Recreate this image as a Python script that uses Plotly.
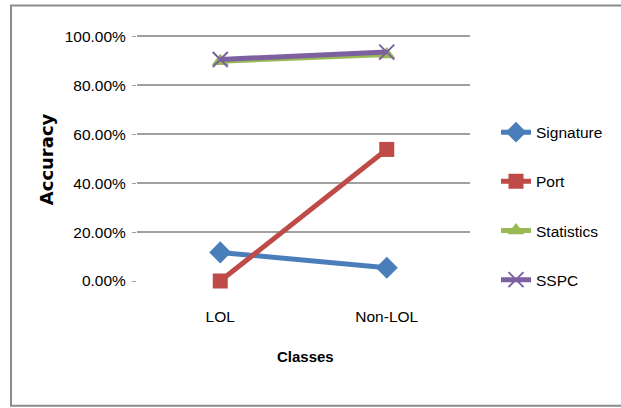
import plotly.graph_objects as go

categories = ["LOL", "Non-LOL"]
signature = [0.117, 0.054]
port = [0.0, 0.538]
statistics = [0.899, 0.926]
sspc = [0.906, 0.936]
y_ticks = [0, 0.2, 0.4, 0.6, 0.8, 1.0]
y_tick_labels = ["0.00%", "20.00%", "40.00%", "60.00%", "80.00%", "100.00%"]

FONT = "Liberation Sans Narrow, Arial Narrow, Liberation Sans, Arial, sans-serif"

series = [
    ("Signature", signature, "#4A7EBB", "diamond", 17),
    ("Port", port, "#BE4B48", "square", 15),
    ("Statistics", statistics, "#98B954", "triangle-up", 15),
    ("SSPC", sspc, "#7D60A0", "x-thin-open", 15),
]

W, H = 621, 408
L, R = 137, 470
TOP, BOT = 33.55, 281
PH = BOT - TOP


def px(x):
    return (x - L) / (R - L)


def py(y):
    return (BOT - y) / PH


fig = go.Figure()
for name, vals, color, sym, size in series:
    marker = dict(symbol=sym, size=size, color=color)
    if sym == "x-thin-open":
        marker["line"] = dict(color=color, width=2)
    fig.add_trace(go.Scatter(
        x=categories, y=vals, name=name, mode="lines+markers",
        line=dict(color=color, width=5), marker=marker,
        cliponaxis=False, legendgroup=name,
    ))

fig.update_layout(
    width=W, height=H,
    margin=dict(l=L, r=W - R, t=TOP, b=H - BOT),
    paper_bgcolor="white", plot_bgcolor="white",
    font=dict(family=FONT, size=15.5, color="black"),
    showlegend=True,
    legend=dict(x=px(496), y=py(206), xanchor="left", yanchor="middle",
                font=dict(family=FONT, size=15.5), tracegroupgap=26,
                bgcolor="rgba(0,0,0,0)"),
    xaxis=dict(type="category", range=[-0.5, 1.5], showgrid=False,
               showline=False, zeroline=False, ticks="",
               tickfont=dict(family=FONT, size=15.5), ticklabelstandoff=24),
    yaxis=dict(range=[0, 1.01], tickvals=y_ticks, ticktext=y_tick_labels,
               showgrid=True, gridcolor="#A0A0A0", gridwidth=1.5,
               zeroline=False, showline=False, ticks="outside",
               ticklen=4, tickcolor="#A0A0A0", ticklabelstandoff=3,
               tickfont=dict(family=FONT, size=15.5)),
    shapes=[dict(type="rect", xref="paper", yref="paper",
                 x0=px(11), x1=px(640), y0=py(406), y1=py(5),
                 line=dict(color="#8C8C8C", width=2), layer="below")],
    annotations=[
        dict(text="<b>Accuracy</b>", xref="paper", yref="paper",
             x=px(46), y=py(159), textangle=-90,
             xanchor="center", yanchor="middle", showarrow=False,
             font=dict(family="DejaVu Sans, Verdana, sans-serif", size=18)),
        dict(text="<b>Classes</b>", xref="paper", yref="paper",
             x=px(305), y=py(357),
             xanchor="center", yanchor="middle", showarrow=False,
             font=dict(family=FONT, size=15)),
    ],
)

fig.write_html("out.html", config={"displayModeBar": False},
               post_script="document.body.style.margin='0px';")
